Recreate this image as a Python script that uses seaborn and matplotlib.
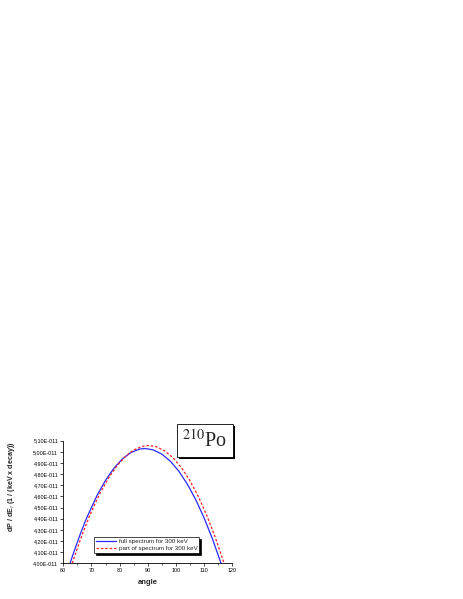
import numpy as np
import pandas as pd
import matplotlib
matplotlib.use("Agg")
import matplotlib.pyplot as plt
import matplotlib.patheffects as pe
from matplotlib.ticker import MultipleLocator
import seaborn as sns

# full spectrum (blue, solid), values in units of 1e-11
full_angle = [62.4, 64, 66, 68, 70, 72, 75, 78, 81, 84, 87, 89,
              92, 95, 98, 101, 104, 107, 110, 113, 116]
full_dp = [4.00, 4.12, 4.26, 4.39, 4.50, 4.61, 4.745, 4.854, 4.937, 4.994, 5.024, 5.03,
           5.017, 4.979, 4.916, 4.827, 4.712, 4.572, 4.407, 4.216, 4.00]

# part of spectrum (red, dashed)
part_angle = [63.2, 65, 67, 69, 71, 73, 76, 79, 82, 85, 88, 90.3,
              93, 96, 99, 102, 105, 108, 111, 114, 117.1]
part_dp = [4.00, 4.136, 4.276, 4.404, 4.521, 4.626, 4.763, 4.873, 4.958, 5.017, 5.049, 5.057,
           5.046, 5.009, 4.946, 4.856, 4.739, 4.596, 4.426, 4.230, 4.00]

series_names = ["full spectrum for 300 keV", "part of spectrum for 300 keV"]
series_colors = ["#2828ff", "#ff2020"]

x_ticks = [60, 70, 80, 90, 100, 110, 120]
y_ticks = [4.00, 4.10, 4.20, 4.30, 4.40, 4.50, 4.60, 4.70, 4.80, 4.90, 5.00, 5.10]
y_tick_labels = ["4,00E-011", "4,10E-011", "4,20E-011", "4,30E-011", "4,40E-011", "4,50E-011",
                 "4,60E-011", "4,70E-011", "4,80E-011", "4,90E-011", "5,00E-011", "5,10E-011"]

df = pd.concat([
    pd.DataFrame({"angle": full_angle, "dP": np.array(full_dp) * 1e-11, "series": series_names[0]}),
    pd.DataFrame({"angle": part_angle, "dP": np.array(part_dp) * 1e-11, "series": series_names[1]}),
])

sns.set_style("ticks")
plt.rcParams["font.family"] = ["Liberation Sans", "DejaVu Sans"]
plt.rcParams["mathtext.fontset"] = "stix"

fig = plt.figure(figsize=(4.63, 5.99), dpi=100)
ax = fig.add_axes([0.1367, 0.0596, 0.365, 0.2047])

sns.lineplot(data=df[df.series == series_names[0]], x="angle", y="dP", color=series_colors[0],
             lw=0.9, sort=False, ax=ax, label=series_names[0])
sns.lineplot(data=df[df.series == series_names[1]], x="angle", y="dP", color=series_colors[1],
             lw=0.9, sort=False, ax=ax, label=series_names[1])
ax.lines[1].set_dashes((2, 1.5))

ax.set_xlim(60, 120)
ax.set_ylim(4.00e-11, 5.10e-11)
ax.set_xticks(x_ticks)
ax.xaxis.set_minor_locator(MultipleLocator(5))
ax.set_yticks(np.array(y_ticks) * 1e-11)
ax.set_yticklabels(y_tick_labels)
ax.tick_params(axis="both", which="major", labelsize=3.9, length=2.2, width=0.5, pad=1.5, colors="black")
ax.tick_params(axis="x", which="minor", length=1.3, width=0.5)
for s in ["left", "bottom"]:
    ax.spines[s].set_linewidth(0.6)
    ax.spines[s].set_color("black")
sns.despine(ax=ax)

ax.set_xlabel("angle", fontsize=5.5, fontweight="bold", labelpad=4)
ax.set_ylabel(r"dP / dE$_{\gamma}$ (1 / (keV x decay))", fontsize=5.1, fontweight="bold")
ax.yaxis.set_label_coords(-0.272, 0.622)

leg = ax.legend(loc="lower center", bbox_to_anchor=(0.494, 0.085), fontsize=4.5, frameon=True,
                fancybox=False, handlelength=3.2, handletextpad=0.4, borderpad=0.3,
                labelspacing=0.25, borderaxespad=0,
                shadow={"color": "black", "alpha": 1, "ox": 1.5, "oy": -1.5})
leg.get_frame().set_edgecolor("black")
leg.get_frame().set_linewidth(0.5)
leg.get_frame().set_alpha(1)

t = fig.text(0.4425, 0.2645, r"$^{210}$Po", fontsize=14.5, family=["Liberation Serif", "DejaVu Serif"],
             ha="center", va="center",
             bbox=dict(boxstyle="square,pad=0.28", facecolor="white", edgecolor="black", linewidth=0.6))
t.get_bbox_patch().set_path_effects([
    pe.withSimplePatchShadow(offset=(1.5, -1.5), shadow_rgbFace="black", alpha=1)])

fig.savefig("out.png", dpi=100)
